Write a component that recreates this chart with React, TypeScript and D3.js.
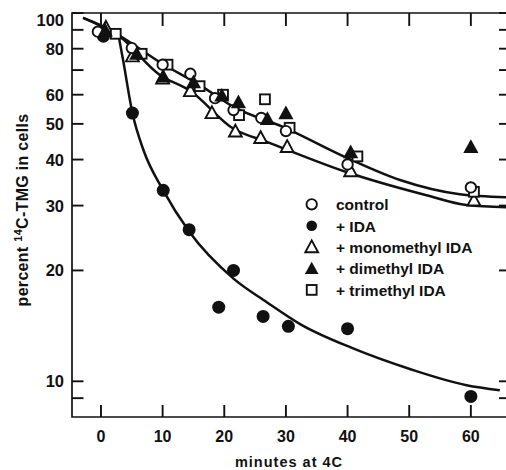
import { useEffect, useRef } from "react";
import * as d3 from "d3";

// measured points, minutes at 4C vs percent 14C-TMG in cells
const controlMin = [-0.5, 5, 10, 14.5, 18.5, 21.5, 26, 30, 40, 60];
const controlVal = [89, 80.3, 72.4, 68.4, 58.7, 54.5, 51.9, 47.8, 38.8, 33.6];

const idaMin = [0.4, 5.1, 10.1, 14.3, 19.1, 21.5, 26.3, 30.4, 40, 60];
const idaVal = [86.5, 53.5, 33, 25.8, 15.9, 20, 15, 14.1, 13.9, 9.1];

const monoMin = [0.8, 5.1, 10, 14.5, 18, 21.8, 25.9, 30.2, 40.5, 60.5];
const monoVal = [91.3, 76.3, 66.4, 61.4, 53.5, 47.7, 45.8, 43.3, 37.2, 31];

const diMin = [0.7, 5.8, 10.1, 15, 19.6, 22.3, 27, 30, 40.5, 60];
const diVal = [89.7, 77.5, 67.3, 64.9, 59.7, 57.3, 51.6, 53.5, 41.9, 43.3];

const triMin = [2.4, 6.6, 10.8, 16, 19.8, 22.4, 26.6, 30.6, 41.6, 60.5];
const triVal = [87.8, 77.5, 72.4, 63.3, 60, 52.8, 58.3, 48.8, 40.8, 32.7];

// hand-drawn fitted curves
const upperFitMin = [-2.9, 2.5, 9.6, 16.1, 21.5, 29.6, 39.8, 48.5, 58.2, 65.7];
const upperFitVal = [97, 87.8, 73.4, 63.6, 55.6, 49, 40.5, 35.2, 32.2, 31.6];
const lowerFitMin = [-2.9, 2.5, 9.6, 14.4, 21.5, 26.9, 39.8, 52.8, 59.3, 65.7];
const lowerFitVal = [97, 87.8, 67.8, 61.6, 48.5, 44.7, 37, 32, 30.1, 29.7];
const idaFitMin = [2.8, 3.6, 5.1, 6.9, 10.1, 14.3, 21.5, 26.9, 32.3, 40.8, 50.1, 59.3, 64.7];
const idaFitVal = [87.8, 74.3, 53.5, 42.4, 33, 25.5, 19, 16.4, 14.3, 12.3, 10.8, 9.76, 9.46];

const xTicks = [0, 10, 20, 30, 40, 50, 60];
const yTicks = [100, 90, 80, 70, 60, 50, 40, 30, 20, 10, 9];
const yLabels = [100, 80, 60, 50, 40, 30, 20, 10];

const legendNames = ["control", "+ IDA", "+ monomethyl IDA", "+ dimethyl IDA", "+ trimethyl IDA"];
const legendKinds = ["circle", "dot", "tri", "triFill", "square"];

const FONT = "'Liberation Sans', Arial, sans-serif";

const App = () => {
  const ref = useRef<SVGSVGElement>(null);

  useEffect(() => {
    const svg = d3.select(ref.current);
    svg.selectAll("*").remove();

    const left = 72, right = 506, top = 13, bottom = 417;

    const x = d3.scaleLinear().domain([-4.7, 65.7]).range([left, right]);
    const y = d3.scaleLog().domain([8, 100]).range([bottom, top]);

    const ink = "#111";

    // frame
    svg.append("path")
      .attr("d", `M${right},${top}H${left}V${bottom}H${right}`)
      .attr("fill", "none")
      .attr("stroke", ink)
      .attr("stroke-width", 1.7);

    // x ticks, top and bottom, pointing inward
    xTicks.forEach((t) => {
      svg.append("line")
        .attr("x1", x(t)).attr("x2", x(t))
        .attr("y1", top).attr("y2", top + 13)
        .attr("stroke", ink).attr("stroke-width", 1.9);
      svg.append("line")
        .attr("x1", x(t)).attr("x2", x(t))
        .attr("y1", bottom).attr("y2", bottom - 12)
        .attr("stroke", ink).attr("stroke-width", 1.9);
      svg.append("text")
        .attr("x", x(t))
        .attr("y", 442)
        .attr("text-anchor", "middle")
        .attr("font-family", FONT)
        .attr("font-weight", "bold")
        .attr("font-size", 16)
        .attr("fill", ink)
        .text(t);
    });

    // y ticks left and right
    yTicks.forEach((t) => {
      svg.append("line")
        .attr("x1", left).attr("x2", left + 11.5)
        .attr("y1", y(t)).attr("y2", y(t))
        .attr("stroke", ink).attr("stroke-width", 1.9);
      svg.append("line")
        .attr("x1", right - 7).attr("x2", right)
        .attr("y1", y(t)).attr("y2", y(t))
        .attr("stroke", ink).attr("stroke-width", 1.9);
    });
    yLabels.forEach((t) => {
      svg.append("text")
        .attr("x", 64)
        .attr("y", Math.max(y(t), 19.5) + 6)
        .attr("text-anchor", "end")
        .attr("font-family", FONT)
        .attr("font-weight", "bold")
        .attr("font-size", 16.5)
        .attr("fill", ink)
        .text(t);
    });

    // axis titles
    svg.append("text")
      .attr("x", 289)
      .attr("y", 467)
      .attr("text-anchor", "middle")
      .attr("font-family", FONT)
      .attr("font-weight", "bold")
      .attr("font-size", 14.5)
      .attr("letter-spacing", 1)
      .attr("fill", ink)
      .text("minutes at 4C");

    const yt = svg.append("text")
      .attr("transform", "translate(27.5,210) rotate(-90)")
      .attr("text-anchor", "middle")
      .attr("font-family", FONT)
      .attr("font-weight", "bold")
      .attr("font-size", 16)
      .attr("letter-spacing", 0.3)
      .attr("fill", ink);
    yt.append("tspan").text("percent ");
    yt.append("tspan").attr("dy", -6).attr("font-size", 11).text("14");
    yt.append("tspan").attr("dy", 6).text("C-TMG in cells");

    // fitted curves
    const line = d3.line<[number, number]>()
      .x((d) => x(d[0]))
      .y((d) => y(d[1]))
      .curve(d3.curveMonotoneX);

    [
      [upperFitMin, upperFitVal],
      [lowerFitMin, lowerFitVal],
      [idaFitMin, idaFitVal],
    ].forEach(([ms, vs]) => {
      svg.append("path")
        .datum(ms.map((m, i) => [m, vs[i]] as [number, number]))
        .attr("fill", "none")
        .attr("stroke", ink)
        .attr("stroke-width", 2.5)
        .attr("d", line);
    });

    const marker = (g: any, kind: string, cx: number, cy: number, legend = false) => {
      if (kind === "circle") {
        g.append("circle").attr("cx", cx).attr("cy", cy).attr("r", 5.2)
          .attr("fill", "#fff").attr("stroke", ink).attr("stroke-width", 1.9);
      } else if (kind === "dot") {
        g.append("circle").attr("cx", cx).attr("cy", cy).attr("r", legend ? 5.3 : 6.5)
          .attr("fill", ink);
      } else if (kind === "tri") {
        const s = 6.4;
        g.append("path")
          .attr("d", `M${cx},${cy - s * 1.05}L${cx + s},${cy + s * 0.8}L${cx - s},${cy + s * 0.8}Z`)
          .attr("fill", "#fff").attr("stroke", ink).attr("stroke-width", 1.9)
          .attr("stroke-linejoin", "miter");
      } else if (kind === "triFill") {
        const s = legend ? 6.8 : 7.6;
        g.append("path")
          .attr("d", `M${cx},${cy - s * 1.0}L${cx + s},${cy + s * 0.8}L${cx - s},${cy + s * 0.8}Z`)
          .attr("fill", ink);
      } else {
        const s = 9.8;
        g.append("rect").attr("x", cx - s / 2).attr("y", cy - s / 2)
          .attr("width", s).attr("height", s)
          .attr("fill", "#fff").attr("stroke", ink).attr("stroke-width", 1.9);
      }
    };

    const series: [number[], number[], string][] = [
      [idaMin, idaVal, "dot"],
      [monoMin, monoVal, "tri"],
      [triMin, triVal, "square"],
      [controlMin, controlVal, "circle"],
      [diMin, diVal, "triFill"],
    ];
    const pts = svg.append("g");
    series.forEach(([ms, vs, kind]) => {
      ms.forEach((m, i) => marker(pts, kind, x(m), y(vs[i])));
    });

    // legend
    const lg = svg.append("g");
    legendNames.forEach((name, i) => {
      const ry = 204.3 + i * 21.4;
      marker(lg, legendKinds[i], 311.7, ry, true);
      lg.append("text")
        .attr("x", 336)
        .attr("y", ry + 5.8)
        .attr("font-family", FONT)
        .attr("font-weight", "bold")
        .attr("font-size", 15.5)
        .attr("fill", ink)
        .text(name);
    });
  }, []);

  return (
    <svg
      ref={ref}
      width={506}
      height={470}
      style={{ position: "absolute", left: 0, top: 0, background: "#fff" }}
    />
  );
};

export default App;
